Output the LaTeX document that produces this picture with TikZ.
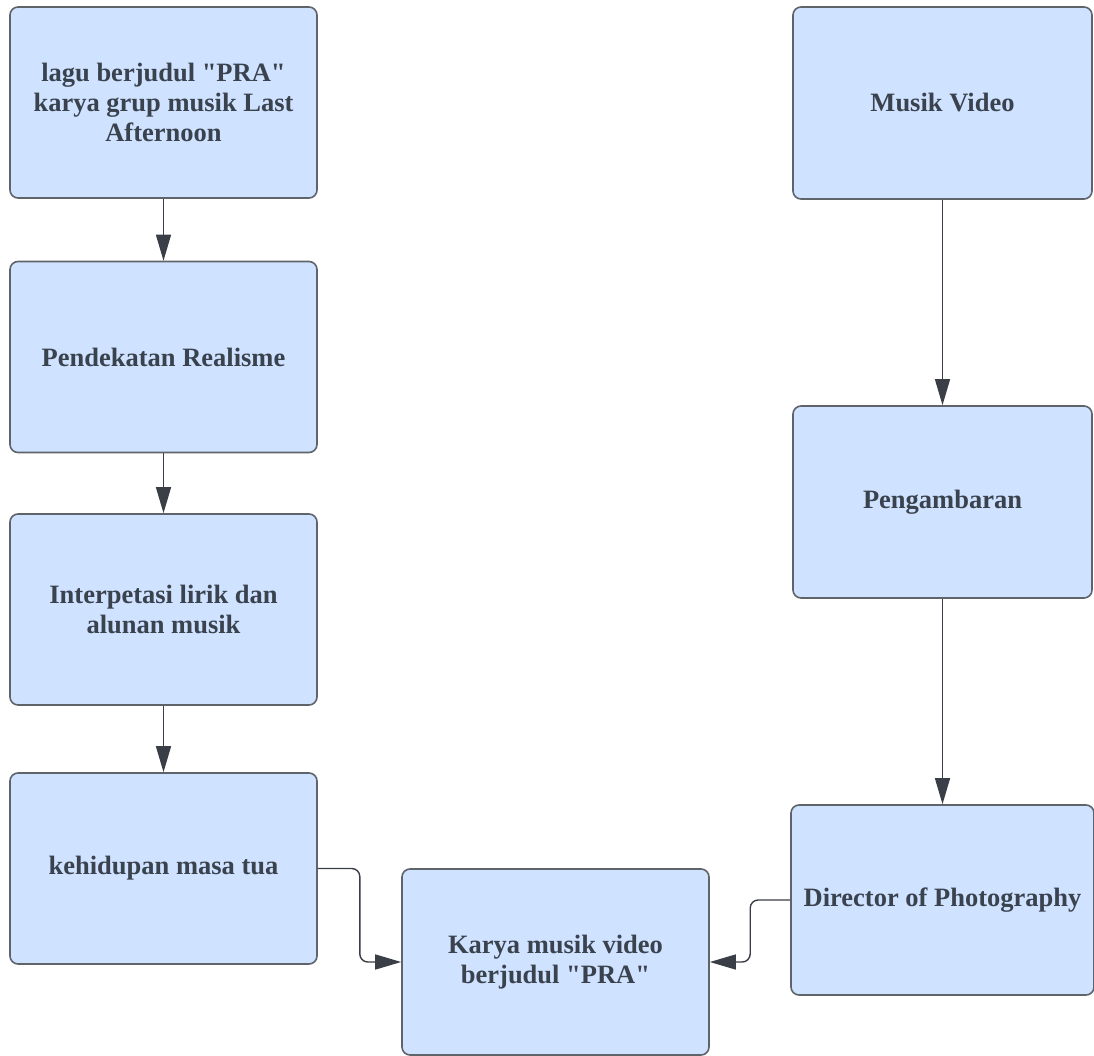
\documentclass[tikz,border=0pt]{standalone}
\usepackage{fontspec}
\setmainfont{Liberation Serif}[Ligatures=TeXOff]
\usetikzlibrary{arrows.meta,positioning}
\definecolor{boxfill}{RGB}{207,226,255}
\definecolor{boxline}{RGB}{95,99,106}
\definecolor{txt}{RGB}{58,66,78}
\definecolor{arrline}{RGB}{58,62,70}

\begin{document}
\begin{tikzpicture}[x=1pt, y=-1pt,
	box/.style={draw=boxline, fill=boxfill, rounded corners=8pt, line width=1.6pt,
		minimum width=307pt, minimum height=191pt, align=center, text=txt,
		font=\fontsize{26.5}{30}\selectfont\bfseries},
	arr/.style={-{Triangle[length=26pt, width=15pt]}, line width=1.4pt, draw=arrline,
		rounded corners=8pt}
]
	\useasboundingbox (0,0) rectangle (1094,1056);
	% left column
	\node[box] (lagu) at (163.5, 102.5)
		{lagu berjudul "PRA"\\ karya grup musik Last\\ Afternoon};
	\node[box] (real) at (163.5, 357) {Pendekatan Realisme};
	\node[box] (lirik) at (163.5, 609.5) {Interpetasi lirik dan\\ alunan musik};
	\node[box] (tua) at (163.5, 868.5) {kehidupan masa tua};
	\draw[arr] (lagu) -- (real);
	\draw[arr] (real) -- (lirik);
	\draw[arr] (lirik) -- (tua);
	% right column
	\node[box, minimum width=299pt, minimum height=192pt] (mv) at (942.5, 103) {Musik Video};
	\node[box, minimum width=299pt, minimum height=192pt] (gam) at (942.5, 502) {Pengambaran};
	\node[box, minimum width=303pt, minimum height=190pt] (dop) at (942.5, 900)
		{Director of Photography};
	\draw[arr] (mv) -- (gam);
	\draw[arr] (gam) -- (dop);
	% result
	\node[box, minimum height=186pt] (karya) at (555.5, 962)
		{Karya musik video\\ berjudul "PRA"};
	\draw[arr] (tua.east) -- ++(42,0) |- (karya.west);
	\draw[arr] (dop.west) -- ++(-40,0) |- (karya.east);
\end{tikzpicture}
\end{document}
